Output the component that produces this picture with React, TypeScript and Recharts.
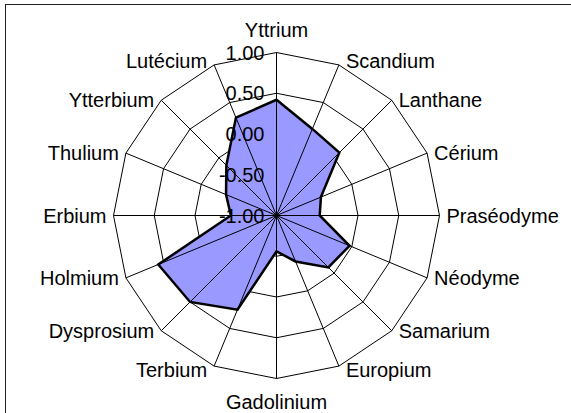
import { PolarAngleAxis, PolarGrid, PolarRadiusAxis, Radar, RadarChart } from "recharts";

const elements = [
  "Yttrium",
  "Scandium",
  "Lanthane",
  "Cérium",
  "Praséodyme",
  "Néodyme",
  "Samarium",
  "Europium",
  "Gadolinium",
  "Terbium",
  "Dysprosium",
  "Holmium",
  "Erbium",
  "Thulium",
  "Ytterbium",
  "Lutécium",
];

const values = [
  0.42, 0.15, 0.09, -0.41, -0.47, -0.03, -0.1, -0.39, -0.56, 0.25, 0.5, 0.57,
  -0.44, -0.33, -0.13, 0.3,
];

const radiusTicks = [-1, -0.5, 0, 0.5, 1];

const data = elements.map((name, i) => ({ name, value: values[i] }));

const CX = 276.5;
const CY = 215.5;
const R = 163;
const FONT = "'Liberation Sans', Arial, sans-serif";

const AngleTick = (props: any) => {
  const { payload } = props;
  const rad = (payload.coordinate * Math.PI) / 180;
  const ux = Math.cos(rad);
  const uy = -Math.sin(rad);
  const vx = CX + ux * R;
  const vy = CY + uy * R;
  let anchor = "middle";
  let x = vx;
  let y = vy;
  if (Math.abs(ux) < 0.05) {
    y = vy + uy * 23;
  } else {
    anchor = ux > 0 ? "start" : "end";
    x = vx + (ux > 0 ? 7 : -7);
    if (Math.abs(uy) > 0.9) y = vy + uy * 4;
  }
  return (
    <text
      x={x}
      y={y}
      textAnchor={anchor}
      dominantBaseline="central"
      fontSize={20}
      fontFamily={FONT}
      fill="#000"
    >
      {payload.value}
    </text>
  );
};

const RadiusTick = (props: any) => {
  const { x, y, payload } = props;
  return (
    <text
      x={x - 12}
      y={y}
      textAnchor="end"
      dominantBaseline="central"
      fontSize={20}
      fontFamily={FONT}
      fill="#000"
    >
      {Number(payload.value).toFixed(2)}
    </text>
  );
};

export default function App() {
  return (
    <div
      style={{
        position: "absolute",
        left: 0,
        top: 0,
        width: 571,
        height: 413,
        background: "#fff",
        overflow: "hidden",
      }}
    >
      <div
        style={{
          position: "absolute",
          left: 5,
          top: 4,
          width: 600,
          height: 450,
          borderTop: "1px solid #222",
          borderLeft: "1px solid #222",
        }}
      />
      <RadarChart
        width={571}
        height={413}
        data={data}
        cx={CX}
        cy={CY}
        outerRadius={R}
        startAngle={90}
        endAngle={-270}
        style={{ position: "absolute", left: 0, top: 0 }}
      >
        <PolarGrid radialLines={false} stroke="#000" strokeOpacity={1} />
        <PolarAngleAxis
          dataKey="name"
          tick={<AngleTick />}
          tickLine={false}
          axisLine={false}
        />
        <PolarRadiusAxis
          angle={90}
          domain={[-1, 1]}
          ticks={radiusTicks as any}
          tickCount={5}
          tick={<RadiusTick />}
          axisLine={false}
          tickLine={false}
        />
        <Radar
          dataKey="value"
          fill="#9999FF"
          fillOpacity={1}
          stroke="#000"
          strokeWidth={2.5}
          isAnimationActive={false}
        />
        <PolarGrid
          polarRadius={[]}
          radialLines
          stroke="#000"
          strokeOpacity={1}
          zIndex={1000}
        />
      </RadarChart>
    </div>
  );
}
